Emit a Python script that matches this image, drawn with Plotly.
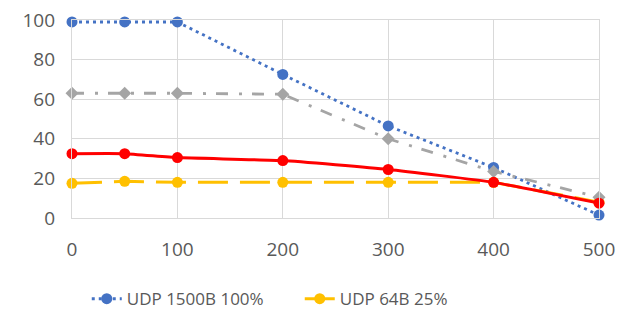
import plotly.graph_objects as go

x_vals = [0, 50, 100, 200, 300, 400, 500]
udp1500_100 = [99, 99, 99, 72.5, 46.5, 25.5, 1.5]
udp64_25 = [17.5, 18.5, 18, 18, 18, 18, 8]
series3 = [63, 63, 63, 62.5, 40, 23.5, 10.5]
series4 = [32.5, 32.5, 30.5, 29, 24.5, 18, 7.5]
x_ticks = [0, 100, 200, 300, 400, 500]
y_ticks = [0, 20, 40, 60, 80, 100]

fig = go.Figure()
fig.add_trace(go.Scatter(
    x=x_vals, y=udp1500_100, name="UDP 1500B 100%", mode="lines+markers",
    line=dict(color="#4472C4", width=2.8, dash="3px,4px"),
    marker=dict(size=11, color="#4472C4"), cliponaxis=False))
fig.add_trace(go.Scatter(
    x=x_vals, y=udp64_25, name="UDP 64B 25%", mode="lines+markers",
    line=dict(color="#FFC000", width=3, dash="30px,12px"),
    marker=dict(size=11, color="#FFC000"), cliponaxis=False))
fig.add_trace(go.Scatter(
    x=x_vals, y=series3, name="Series 3", mode="lines+markers", showlegend=False,
    line=dict(color="#A5A5A5", width=2.8, dash="12px,11px,3px,10px"),
    marker=dict(size=10, color="#A5A5A5", symbol="diamond"), cliponaxis=False))
fig.add_trace(go.Scatter(
    x=x_vals, y=series4, name="Series 4", mode="lines+markers", showlegend=False,
    line=dict(color="#FF0000", width=3, shape="spline", smoothing=0.4),
    marker=dict(size=11, color="#FF0000"), cliponaxis=False))

font_family = "Open Sans, Liberation Sans, sans-serif"
grid = "#D9D9D9"
fig.update_layout(
    width=629, height=314,
    margin=dict(l=72, r=30, t=20, b=96, autoexpand=False),
    paper_bgcolor="white", plot_bgcolor="white",
    font=dict(family=font_family, color="#595959", size=19),
    showlegend=True,
    legend=dict(orientation="h", x=0.028, xanchor="left", y=-0.41, yanchor="middle",
                font=dict(size=17, color="#595959"), itemwidth=30,
                entrywidth=168,
                bgcolor="rgba(0,0,0,0)"),
    xaxis=dict(range=[0, 500], tickvals=x_ticks, showgrid=True, gridcolor=grid,
               gridwidth=1.3, zeroline=False, showline=True, mirror=True,
               linecolor=grid, linewidth=1.3, automargin=False,
               ticks="outside", ticklen=14, tickcolor="rgba(0,0,0,0)",
               tickfont=dict(size=19, color="#595959")),
    yaxis=dict(range=[0, 100], tickvals=y_ticks, showgrid=True, gridcolor=grid,
               gridwidth=1.3, zeroline=False, showline=True, mirror=True,
               linecolor=grid, linewidth=1.3, automargin=False,
               ticks="outside", ticklen=12, tickcolor="rgba(0,0,0,0)",
               tickfont=dict(size=19, color="#595959")),
)

fig.write_html("out.html", config={"displayModeBar": False},
               post_script="document.body.style.margin='0px';document.body.style.overflow='hidden';")
